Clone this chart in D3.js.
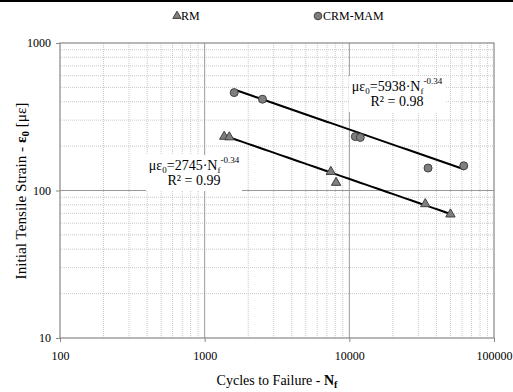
<!DOCTYPE html>
<html>
<head>
<meta charset="utf-8">
<script src="https://cdn.jsdelivr.net/npm/d3@7"></script>
<style>
  body { margin: 0; background: #fff; }
  svg text { font-family: "Liberation Serif", "DejaVu Serif", serif; }
</style>
</head>
<body>
<svg id="chart"></svg>
<script>
// Chart size and margins
const width = 513, height = 392;
const margin = { left: 60, right: 19, top: 43, bottom: 54 };
const serif = "Liberation Serif, DejaVu Serif, serif";

// Data
const rmCycles = [1365, 1480, 7450, 8100, 33500, 50000];
const rmStrain = [232, 230, 134, 113, 81, 69];
const crmCycles = [1600, 2510, 11000, 11900, 35000, 61800];
const crmStrain = [461, 416, 232, 229, 142, 147];

// Power-law fits: strain = a * N^b
const rmFit = { a: 2745, b: -0.34, from: 1380, to: 50000 };
const crmFit = { a: 5938, b: -0.34, from: 1600, to: 62000 };

const xTicks = [100, 1000, 10000, 100000];
const yTicks = [10, 100, 1000];

const svg = d3.select("#chart")
    .attr("width", width)
    .attr("height", height)
    .attr("font-family", serif);

// Thick black rule across the top
svg.append("rect")
    .attr("x", 0).attr("y", 0)
    .attr("width", width).attr("height", 2)
    .attr("fill", "#000");

const x = d3.scaleLog().domain([100, 100000]).range([margin.left, width - margin.right]);
const y = d3.scaleLog().domain([10, 1000]).range([height - margin.bottom, margin.top]);

const plot = svg.append("g");

// Minor grid lines (dotted)
let minorX = [], minorY = [];
[100, 1000, 10000].forEach(d => { for (let k = 2; k <= 9; k++) minorX.push(d * k); });
[10, 100].forEach(d => { for (let k = 2; k <= 9; k++) minorY.push(d * k); });

plot.selectAll(".minor-x")
    .data(minorX)
    .enter().append("line")
    .attr("x1", d => x(d)).attr("x2", d => x(d))
    .attr("y1", y(10)).attr("y2", y(1000))
    .attr("stroke", "#c8c8c8")
    .attr("stroke-width", 1)
    .attr("stroke-dasharray", "1,1");

plot.selectAll(".minor-y")
    .data(minorY)
    .enter().append("line")
    .attr("x1", x(100)).attr("x2", x(100000))
    .attr("y1", d => y(d)).attr("y2", d => y(d))
    .attr("stroke", "#c8c8c8")
    .attr("stroke-width", 1)
    .attr("stroke-dasharray", "1,1");

// Major grid lines (solid)
plot.selectAll(".major-x")
    .data([1000, 10000])
    .enter().append("line")
    .attr("x1", d => x(d)).attr("x2", d => x(d))
    .attr("y1", y(10)).attr("y2", y(1000))
    .attr("stroke", "#999")
    .attr("stroke-width", 1);

plot.selectAll(".major-y")
    .data([100])
    .enter().append("line")
    .attr("x1", x(100)).attr("x2", x(100000))
    .attr("y1", d => y(d)).attr("y2", d => y(d))
    .attr("stroke", "#999")
    .attr("stroke-width", 1);

// Plot border
plot.append("rect")
    .attr("x", x(100)).attr("y", y(1000))
    .attr("width", x(100000) - x(100))
    .attr("height", y(10) - y(1000))
    .attr("fill", "none")
    .attr("stroke", "#888")
    .attr("stroke-width", 1.2);

// Axes with short outside ticks
const xAxis = d3.axisBottom(x).tickValues(xTicks).tickFormat(d3.format("d")).tickSize(4).tickPadding(9);
const yAxis = d3.axisLeft(y).tickValues(yTicks).tickFormat(d3.format("d")).tickSize(4).tickPadding(5);

const gx = svg.append("g").attr("transform", `translate(0,${y(10)})`).call(xAxis);
const gy = svg.append("g").attr("transform", `translate(${x(100)},0)`).call(yAxis);
[gx, gy].forEach(g => {
    g.attr("font-family", serif).attr("font-size", 12);
    g.select(".domain").remove();
    g.selectAll("line").attr("stroke", "#888");
    g.selectAll("text").attr("fill", "#000");
});

// Fitted power-law lines
function fitLine(fit) {
    const pts = d3.range(0, 41).map(i => {
        const n = Math.exp(Math.log(fit.from) + (Math.log(fit.to) - Math.log(fit.from)) * i / 40);
        return [n, fit.a * Math.pow(n, fit.b)];
    });
    return d3.line().x(d => x(d[0])).y(d => y(d[1]))(pts);
}

// Equation labels with white boxes
function eqLabel(cx, cy, coef, r2) {
    const g = svg.append("g");
    g.append("rect")
        .attr("x", cx - 48).attr("y", cy - 15)
        .attr("width", 96).attr("height", 36)
        .attr("fill", "#fff");
    const t = g.append("text")
        .attr("x", cx).attr("y", cy)
        .attr("text-anchor", "middle")
        .attr("font-size", 14);
    t.append("tspan").text("με");
    t.append("tspan").attr("dy", 3).attr("font-size", 9).text("0");
    t.append("tspan").attr("dy", -3).text("=" + coef + "·N");
    t.append("tspan").attr("dy", 3).attr("font-size", 9).text("f");
    t.append("tspan").attr("dy", -10).attr("font-size", 9).text("-0.34");
    g.append("text")
        .attr("x", cx).attr("y", cy + 15)
        .attr("text-anchor", "middle")
        .attr("font-size", 14)
        .text("R² = " + r2);
}

eqLabel(194, 170, 2745, "0.99");
eqLabel(397, 91, 5938, "0.98");

svg.append("path")
    .attr("d", fitLine(rmFit))
    .attr("fill", "none")
    .attr("stroke", "#000")
    .attr("stroke-width", 2);

svg.append("path")
    .attr("d", fitLine(crmFit))
    .attr("fill", "none")
    .attr("stroke", "#000")
    .attr("stroke-width", 2);

// Markers
const tri = d3.symbol().type(d3.symbolTriangle).size(38);
const rmData = rmCycles.map((c, i) => ({ n: c, e: rmStrain[i] }));
const crmData = crmCycles.map((c, i) => ({ n: c, e: crmStrain[i] }));

svg.selectAll(".rm")
    .data(rmData)
    .enter().append("path")
    .attr("d", tri)
    .attr("transform", d => `translate(${x(d.n)},${y(d.e)})`)
    .attr("fill", "#7f7f7f")
    .attr("stroke", "#404040")
    .attr("stroke-width", 1);

svg.selectAll(".crm")
    .data(crmData)
    .enter().append("circle")
    .attr("cx", d => x(d.n))
    .attr("cy", d => y(d.e))
    .attr("r", 4)
    .attr("fill", "#7f7f7f")
    .attr("stroke", "#404040")
    .attr("stroke-width", 1);

// Legend
svg.append("path")
    .attr("d", d3.symbol().type(d3.symbolTriangle).size(30))
    .attr("transform", "translate(177,16)")
    .attr("fill", "#7f7f7f").attr("stroke", "#404040");
svg.append("text").attr("x", 181).attr("y", 20).attr("font-size", 12).text("RM");
svg.append("circle").attr("cx", 318).attr("cy", 16).attr("r", 3.8)
    .attr("fill", "#7f7f7f").attr("stroke", "#404040");
svg.append("text").attr("x", 323).attr("y", 20).attr("font-size", 12).text("CRM-MAM");

// Axis titles
const xt = svg.append("text")
    .attr("x", 277).attr("y", 385)
    .attr("text-anchor", "middle")
    .attr("font-size", 14);
xt.append("tspan").text("Cycles to Failure - ");
xt.append("tspan").attr("font-weight", "bold").text("N");
xt.append("tspan").attr("dy", 3).attr("font-weight", "bold").attr("font-size", 10).text("f");

// y title is squeezed to the length it has in the picture
const ytG = svg.append("g")
    .attr("transform", "translate(26,191) rotate(-90)");
const ytInner = ytG.append("g");
const yt = ytInner.append("text")
    .attr("text-anchor", "middle")
    .attr("font-size", 14);
yt.append("tspan").text("Initial Tensile Strain - ");
yt.append("tspan").attr("font-weight", "bold").text("ε");
yt.append("tspan").attr("dy", 3).attr("font-weight", "bold").attr("font-size", 10).text("0");
yt.append("tspan").attr("dy", -3).text(" [με]");
const ytBox = yt.node().getBBox();
const sx = 177 / ytBox.width;
ytInner.attr("transform", `scale(${sx},1) translate(${-(ytBox.x + ytBox.width / 2)},0)`);
</script>
</body>
</html>
